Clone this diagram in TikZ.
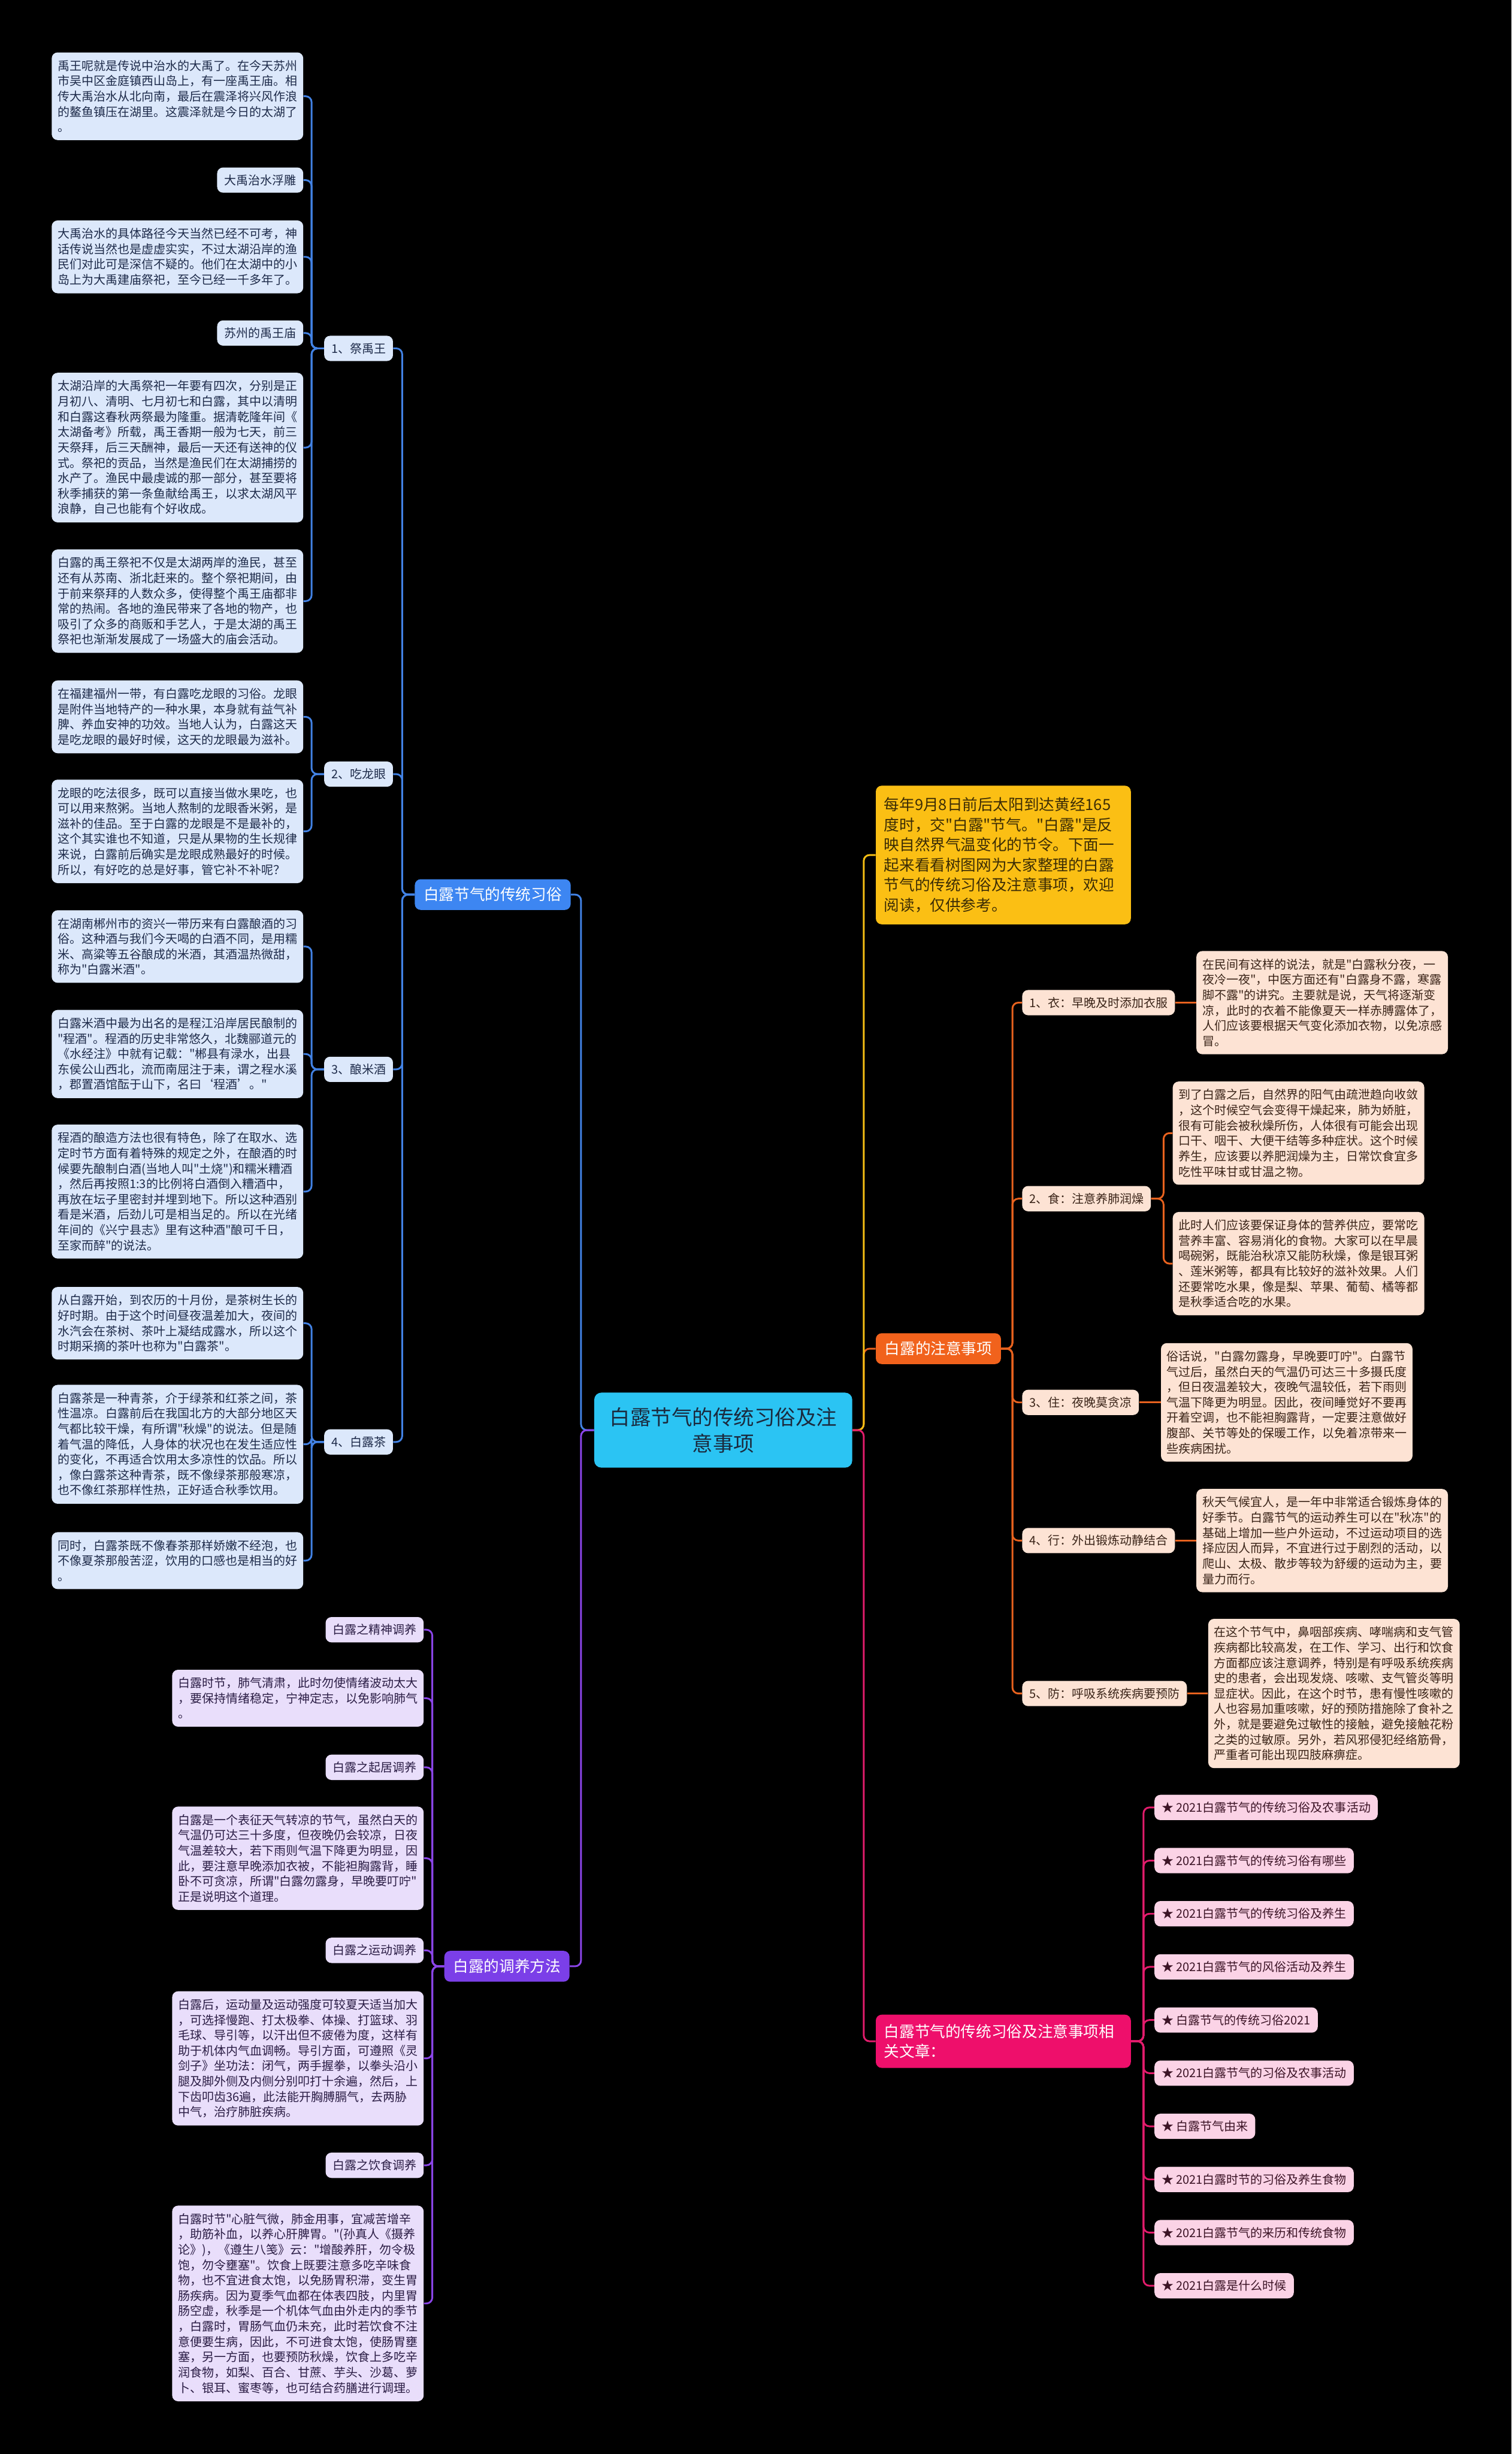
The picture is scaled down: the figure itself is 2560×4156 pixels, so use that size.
\documentclass[tikz,border=0pt]{standalone}
\usepackage{fontspec}
\setmainfont{Noto Sans CJK SC}[Ligatures=TeXOff]
\usepackage{xcolor}

\definecolor{rootcyan}{HTML}{2BC4F3}
\definecolor{rootink}{HTML}{1B2A3E}
\definecolor{custblue}{HTML}{3D86F2}
\definecolor{custline}{HTML}{4282E4}
\definecolor{leafblue}{HTML}{DCE8FB}
\definecolor{inkblue}{HTML}{1E2B4A}
\definecolor{careorange}{HTML}{F1621C}
\definecolor{careline}{HTML}{E8621E}
\definecolor{leafpeach}{HTML}{FDE3D4}
\definecolor{inkbrown}{HTML}{3A2418}
\definecolor{introyellow}{HTML}{FBBF14}
\definecolor{introline}{HTML}{F5BE14}
\definecolor{inkyellow}{HTML}{3B2C05}
\definecolor{curepurple}{HTML}{7B3FE8}
\definecolor{cureline}{HTML}{8B45E8}
\definecolor{leaflilac}{HTML}{E9DEFB}
\definecolor{inkpurple}{HTML}{2B1D45}
\definecolor{linkpink}{HTML}{EE0F6B}
\definecolor{linkline}{HTML}{E21C6C}
\definecolor{leafpink}{HTML}{FBD3E6}
\definecolor{inkpink}{HTML}{3C1426}

\newcommand{\leaffont}{\fontsize{10.15pt}{13pt}\selectfont}
\newcommand{\branchfont}{\fontsize{13pt}{17pt}\selectfont}

\tikzset{
  leaf/.style={text width=203pt, align=left, inner xsep=5pt, inner ysep=6.5pt,
    rounded corners=5pt, font=\leaffont},
  tag/.style={inner xsep=6pt, inner ysep=6pt, rounded corners=5pt, font=\leaffont},
  branch/.style={inner xsep=7.5pt, inner ysep=7pt, rounded corners=5pt,
    font=\branchfont, text=white},
  bluebox/.style={fill=leafblue, text=inkblue},
  peachbox/.style={fill=leafpeach, text=inkbrown},
  lilacbox/.style={fill=leaflilac, text=inkpurple},
  pinkbox/.style={fill=leafpink, text=inkpink},
  wire/.style={line width=1.5pt, rounded corners=5pt},
}

\begin{document}
\begin{tikzpicture}[x=0.5pt,y=-0.5pt]
\fill[black] (0,0) rectangle (2560,4156);
\useasboundingbox (0,0) rectangle (2560,4156);

% centre
\node[fill=rootcyan, text=rootink, rounded corners=6pt, align=center,
  font=\fontsize{17.5pt}{22.5pt}\selectfont, minimum width=218.5pt,
  minimum height=63.5pt] (root) at (1225,2422) {白露节气的传统习俗及注\\意事项};

% left: customs
\node[branch, fill=custblue, anchor=east] (custom) at (967,1515) {白露节气的传统习俗};
\node[tag, bluebox, anchor=east] (yu) at (666,590) {1、祭禹王};
\node[tag, bluebox, anchor=east] (longan) at (666,1311) {2、吃龙眼};
\node[tag, bluebox, anchor=east] (wine) at (666,1811) {3、酿米酒};
\node[tag, bluebox, anchor=east] (tea) at (666,2442) {4、白露茶};

\node[leaf, bluebox, anchor=east] (a1) at (514,163) {禹王呢就是传说中治水的大禹了。在今天苏州\\市吴中区金庭镇西山岛上，有一座禹王庙。相\\传大禹治水从北向南，最后在震泽将兴风作浪\\的鳌鱼镇压在湖里。这震泽就是今日的太湖了\\。};
\node[tag, bluebox, anchor=east] (a2) at (514,305) {大禹治水浮雕};
\node[leaf, bluebox, anchor=east] (a3) at (514,435) {大禹治水的具体路径今天当然已经不可考，神\\话传说当然也是虚虚实实，不过太湖沿岸的渔\\民们对此可是深信不疑的。他们在太湖中的小\\岛上为大禹建庙祭祀，至今已经一千多年了。};
\node[tag, bluebox, anchor=east] (a4) at (514,564) {苏州的禹王庙};
\node[leaf, bluebox, anchor=east] (a5) at (514,758) {太湖沿岸的大禹祭祀一年要有四次，分别是正\\月初八、清明、七月初七和白露，其中以清明\\和白露这春秋两祭最为隆重。据清乾隆年间《\\太湖备考》所载，禹王香期一般为七天，前三\\天祭拜，后三天酬神，最后一天还有送神的仪\\式。祭祀的贡品，当然是渔民们在太湖捕捞的\\水产了。渔民中最虔诚的那一部分，甚至要将\\秋季捕获的第一条鱼献给禹王，以求太湖风平\\浪静，自己也能有个好收成。};
\node[leaf, bluebox, anchor=east] (a6) at (514,1018) {白露的禹王祭祀不仅是太湖两岸的渔民，甚至\\还有从苏南、浙北赶来的。整个祭祀期间，由\\于前来祭拜的人数众多，使得整个禹王庙都非\\常的热闹。各地的渔民带来了各地的物产，也\\吸引了众多的商贩和手艺人，于是太湖的禹王\\祭祀也渐渐发展成了一场盛大的庙会活动。};

\node[leaf, bluebox, anchor=east] (b1) at (514,1214) {在福建福州一带，有白露吃龙眼的习俗。龙眼\\是附件当地特产的一种水果，本身就有益气补\\脾、养血安神的功效。当地人认为，白露这天\\是吃龙眼的最好时候，这天的龙眼最为滋补。};
\node[leaf, bluebox, anchor=east] (b2) at (514,1408) {龙眼的吃法很多，既可以直接当做水果吃，也\\可以用来熬粥。当地人熬制的龙眼香米粥，是\\滋补的佳品。至于白露的龙眼是不是最补的，\\这个其实谁也不知道，只是从果物的生长规律\\来说，白露前后确实是龙眼成熟最好的时候。\\所以，有好吃的总是好事，管它补不补呢？};

\node[leaf, bluebox, anchor=east] (c1) at (514,1603) {在湖南郴州市的资兴一带历来有白露酿酒的习\\俗。这种酒与我们今天喝的白酒不同，是用糯\\米、高粱等五谷酿成的米酒，其酒温热微甜，\\称为"白露米酒"。};
\node[leaf, bluebox, anchor=east] (c2) at (514,1785) {白露米酒中最为出名的是程江沿岸居民酿制的\\"程酒"。程酒的历史非常悠久，北魏郦道元的\\《水经注》中就有记载："郴县有渌水，出县\\东侯公山西北，流而南屈注于耒，谓之程水溪\\，郡置酒馆酝于山下，名曰‘程酒’。"};
\node[leaf, bluebox, anchor=east] (c3) at (514,2018) {程酒的酿造方法也很有特色，除了在取水、选\\定时节方面有着特殊的规定之外，在酿酒的时\\候要先酿制白酒(当地人叫"土烧")和糯米糟酒\\，然后再按照1:3的比例将白酒倒入糟酒中，\\再放在坛子里密封并埋到地下。所以这种酒别\\看是米酒，后劲儿可是相当足的。所以在光绪\\年间的《兴宁县志》里有这种酒"酿可千日，\\至家而醉"的说法。};

\node[leaf, bluebox, anchor=east] (d1) at (514,2241) {从白露开始，到农历的十月份，是茶树生长的\\好时期。由于这个时间昼夜温差加大，夜间的\\水汽会在茶树、茶叶上凝结成露水，所以这个\\时期采摘的茶叶也称为"白露茶"。};
\node[leaf, bluebox, anchor=east] (d2) at (514,2446) {白露茶是一种青茶，介于绿茶和红茶之间，茶\\性温凉。白露前后在我国北方的大部分地区天\\气都比较干燥，有所谓"秋燥"的说法。但是随\\着气温的降低，人身体的状况也在发生适应性\\的变化，不再适合饮用太多凉性的饮品。所以\\，像白露茶这种青茶，既不像绿茶那般寒凉，\\也不像红茶那样性热，正好适合秋季饮用。};
\node[leaf, bluebox, anchor=east] (d3) at (514,2643) {同时，白露茶既不像春茶那样娇嫩不经泡，也\\不像夏茶那般苦涩，饮用的口感也是相当的好\\。};

% left: regimen
\node[branch, fill=curepurple, anchor=east] (cure) at (965,3330) {白露的调养方法};
\node[tag, lilacbox, anchor=east] (e1) at (718,2760) {白露之精神调养};
\node[leaf, lilacbox, anchor=east] (e2) at (718,2876) {白露时节，肺气清肃，此时勿使情绪波动太大\\，要保持情绪稳定，宁神定志，以免影响肺气\\。};
\node[tag, lilacbox, anchor=east] (e3) at (718,2993) {白露之起居调养};
\node[leaf, lilacbox, anchor=east] (e4) at (718,3147) {白露是一个表征天气转凉的节气，虽然白天的\\气温仍可达三十多度，但夜晚仍会较凉，日夜\\气温差较大，若下雨则气温下降更为明显，因\\此，要注意早晚添加衣被，不能袒胸露背，睡\\卧不可贪凉，所谓"白露勿露身，早晚要叮咛"\\正是说明这个道理。};
\node[tag, lilacbox, anchor=east] (e5) at (718,3303) {白露之运动调养};
\node[leaf, lilacbox, anchor=east] (e6) at (718,3486) {白露后，运动量及运动强度可较夏天适当加大\\，可选择慢跑、打太极拳、体操、打篮球、羽\\毛球、导引等，以汗出但不疲倦为度，这样有\\助于机体内气血调畅。导引方面，可遵照《灵\\剑子》坐功法：闭气，两手握拳，以拳头沿小\\腿及脚外侧及内侧分别叩打十余遍，然后，上\\下齿叩齿36遍，此法能开胸膊膈气，去两胁\\中气，治疗肺脏疾病。};
\node[tag, lilacbox, anchor=east] (e7) at (718,3667) {白露之饮食调养};
\node[leaf, lilacbox, anchor=east] (e8) at (718,3901) {白露时节"心脏气微，肺金用事，宜减苦增辛\\，助筋补血，以养心肝脾胃。"(孙真人《摄养\\论》)，《遵生八笺》云："增酸养肝，勿令极\\饱，勿令壅塞"。饮食上既要注意多吃辛味食\\物，也不宜进食太饱，以免肠胃积滞，变生胃\\肠疾病。因为夏季气血都在体表四肢，内里胃\\肠空虚，秋季是一个机体气血由外走内的季节\\，白露时，胃肠气血仍未充，此时若饮食不注\\意便要生病，因此，不可进食太饱，使肠胃壅\\塞，另一方面，也要预防秋燥，饮食上多吃辛\\润食物，如梨、百合、甘蔗、芋头、沙葛、萝\\卜、银耳、蜜枣等，也可结合药膳进行调理。};

% right: intro
\node[fill=introyellow, text=inkyellow, text width=202pt, align=left, inner xsep=7pt,
  inner ysep=10pt, rounded corners=5pt, font=\branchfont, anchor=west] (intro) at (1483,1448)
  {每年9月8日前后太阳到达黄经165\\度时，交"白露"节气。"白露"是反\\映自然界气温变化的节令。下面一\\起来看看树图网为大家整理的白露\\节气的传统习俗及注意事项，欢迎\\阅读，仅供参考。};

% right: cautions
\node[branch, fill=careorange, anchor=west] (care) at (1483,2284) {白露的注意事项};
\node[tag, peachbox, anchor=west] (clothes) at (1731,1698) {1、衣：早晚及时添加衣服};
\node[tag, peachbox, anchor=west] (food) at (1731,2030) {2、食：注意养肺润燥};
\node[tag, peachbox, anchor=west] (home) at (1731,2375) {3、住：夜晚莫贪凉};
\node[tag, peachbox, anchor=west] (walk) at (1731,2609) {4、行：外出锻炼动静结合};
\node[tag, peachbox, anchor=west] (guard) at (1731,2868) {5、防：呼吸系统疾病要预防};

\node[leaf, peachbox, anchor=west] (r1) at (2026,1698) {在民间有这样的说法，就是"白露秋分夜，一\\夜冷一夜"，中医方面还有"白露身不露，寒露\\脚不露"的讲究。主要就是说，天气将逐渐变\\凉，此时的衣着不能像夏天一样赤膊露体了，\\人们应该要根据天气变化添加衣物，以免凉感\\冒。};
\node[leaf, peachbox, anchor=west] (r2a) at (1986,1919) {到了白露之后，自然界的阳气由疏泄趋向收敛\\，这个时候空气会变得干燥起来，肺为娇脏，\\很有可能会被秋燥所伤，人体很有可能会出现\\口干、咽干、大便干结等多种症状。这个时候\\养生，应该要以养肥润燥为主，日常饮食宜多\\吃性平味甘或甘温之物。};
\node[leaf, peachbox, anchor=west] (r2b) at (1986,2140) {此时人们应该要保证身体的营养供应，要常吃\\营养丰富、容易消化的食物。大家可以在早晨\\喝碗粥，既能治秋凉又能防秋燥，像是银耳粥\\、莲米粥等，都具有比较好的滋补效果。人们\\还要常吃水果，像是梨、苹果、葡萄、橘等都\\是秋季适合吃的水果。};
\node[leaf, peachbox, anchor=west] (r3) at (1966,2375) {俗话说，"白露勿露身，早晚要叮咛"。白露节\\气过后，虽然白天的气温仍可达三十多摄氏度\\，但日夜温差较大，夜晚气温较低，若下雨则\\气温下降更为明显。因此，夜间睡觉好不要再\\开着空调，也不能袒胸露背，一定要注意做好\\腹部、关节等处的保暖工作，以免着凉带来一\\些疾病困扰。};
\node[leaf, peachbox, anchor=west] (r4) at (2026,2609) {秋天气候宜人，是一年中非常适合锻炼身体的\\好季节。白露节气的运动养生可以在"秋冻"的\\基础上增加一些户外运动，不过运动项目的选\\择应因人而异，不宜进行过于剧烈的活动，以\\爬山、太极、散步等较为舒缓的运动为主，要\\量力而行。};
\node[leaf, peachbox, anchor=west] (r5) at (2046,2868) {在这个节气中，鼻咽部疾病、哮喘病和支气管\\疾病都比较高发，在工作、学习、出行和饮食\\方面都应该注意调养，特别是有呼吸系统疾病\\史的患者，会出现发烧、咳嗽、支气管炎等明\\显症状。因此，在这个时节，患有慢性咳嗽的\\人也容易加重咳嗽，好的预防措施除了食补之\\外，就是要避免过敏性的接触，避免接触花粉\\之类的过敏原。另外，若风邪侵犯经络筋骨，\\严重者可能出现四肢麻痹症。};

% right: related articles
\node[fill=linkpink, text=white, text width=202pt, align=left, inner xsep=7pt,
  inner ysep=8pt, rounded corners=5pt, font=\branchfont, anchor=west] (links) at (1483,3457)
  {白露节气的传统习俗及注意事项相\\关文章：};
\foreach \t [count=\i from 0] in {2021白露节气的传统习俗及农事活动, 2021白露节气的传统习俗有哪些,
  2021白露节气的传统习俗及养生, 2021白露节气的风俗活动及养生, 白露节气的传统习俗2021,
  2021白露节气的习俗及农事活动, 白露节气由来, 2021白露时节的习俗及养生食物,
  2021白露节气的来历和传统食物, 2021白露是什么时候}
  \node[tag, pinkbox, anchor=west] (l\i) at (1955,3061+90*\i) {★ \t};

% connectors
\draw[wire, custline] (root.west) -- ++(-22,0) |- (custom.east);
\draw[wire, cureline] (root.west) -- ++(-22,0) |- (cure.east);
\draw[wire, careline] (root.east) -- ++(19,0) |- (care.west);
\draw[wire, introline] (root.east) -- ++(19,0) |- (intro.west);
\draw[wire, linkline] (root.east) -- ++(19,0) |- (links.west);

\foreach \c in {yu, longan, wine, tea}
  \draw[wire, custline] (custom.west) -- ++(-21,0) |- (\c.east);
\foreach \c in {a1, a2, a3, a4, a5, a6}
  \draw[wire, custline] (yu.west) -- ++(-21,0) |- (\c.east);
\foreach \c in {b1, b2}
  \draw[wire, custline] (longan.west) -- ++(-21,0) |- (\c.east);
\foreach \c in {c1, c2, c3}
  \draw[wire, custline] (wine.west) -- ++(-21,0) |- (\c.east);
\foreach \c in {d1, d2, d3}
  \draw[wire, custline] (tea.west) -- ++(-21,0) |- (\c.east);

\foreach \c in {e1, e2, e3, e4, e5, e6, e7, e8}
  \draw[wire, cureline] (cure.west) -- ++(-20,0) |- (\c.east);

\foreach \c in {clothes, food, home, walk, guard}
  \draw[wire, careline] (care.east) -- ++(19,0) |- (\c.west);
\draw[wire, careline] (clothes.east) -- (r1.west);
\foreach \c in {r2a, r2b}
  \draw[wire, careline] (food.east) -- ++(21,0) |- (\c.west);
\draw[wire, careline] (home.east) -- (r3.west);
\draw[wire, careline] (walk.east) -- (r4.west);
\draw[wire, careline] (guard.east) -- (r5.west);

\foreach \i in {0,...,9}
  \draw[wire, linkline] (links.east) -- ++(21,0) |- (l\i.west);
\end{tikzpicture}
\end{document}
